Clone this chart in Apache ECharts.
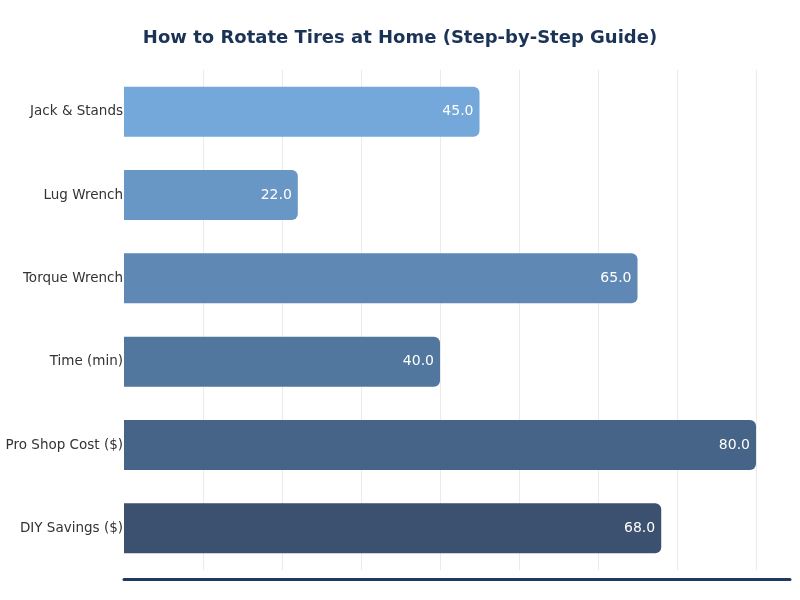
<!DOCTYPE html>
<html><head><meta charset="utf-8">
<script src="https://cdn.jsdelivr.net/npm/echarts@6/dist/echarts.min.js"></script>
<style>html,body{margin:0;padding:0;background:#fff}#c{width:800px;height:600px}</style>
</head><body><div id="c"></div>
<script>
const categories = ["Jack & Stands", "Lug Wrench", "Torque Wrench", "Time (min)", "Pro Shop Cost ($)", "DIY Savings ($)"];
const values = [45, 22, 65, 40, 80, 68];
const barColors = ["#74a8da", "#6897c6", "#5f89b4", "#52779f", "#466487", "#3c506f"];

const chart = echarts.init(document.getElementById('c'));
chart.setOption({
  backgroundColor: '#ffffff',
  title: {
    text: 'How to Rotate Tires at Home (Step-by-Step Guide)',
    left: 'center', top: 24,
    textStyle: {fontFamily: 'DejaVu Sans', fontSize: 18, fontWeight: 'bold', color: '#1c3358'}
  },
  grid: {left: 124, right: 10, top: 70, bottom: 30, containLabel: false},
  xAxis: {
    type: 'value', min: 0, max: 84.3, interval: 10,
    axisLabel: {show: false}, axisTick: {show: false},
    axisLine: {show: true, onZero: false, lineStyle: {color: '#1f3a60', width: 3}},
    offset: 9,
    splitLine: {show: true, showMinLine: false, showMaxLine: false, lineStyle: {color: '#ebebeb', width: 1}}
  },
  yAxis: {
    type: 'category', inverse: true, data: categories,
    axisLine: {show: false}, axisTick: {show: false},
    axisLabel: {fontFamily: 'DejaVu Sans', fontSize: 13.5, color: '#333333', margin: 1}
  },
  series: [{
    type: 'bar', barCategoryGap: '40%',
    data: values.map((v, i) => ({value: v, itemStyle: {color: barColors[i]}})),
    itemStyle: {borderRadius: [0, 6, 6, 0]},
    label: {show: true, position: 'insideRight', distance: 6, color: '#ffffff',
      fontFamily: 'DejaVu Sans', fontSize: 14, formatter: p => p.value.toFixed(1)}
  }]
});
</script></body></html>
